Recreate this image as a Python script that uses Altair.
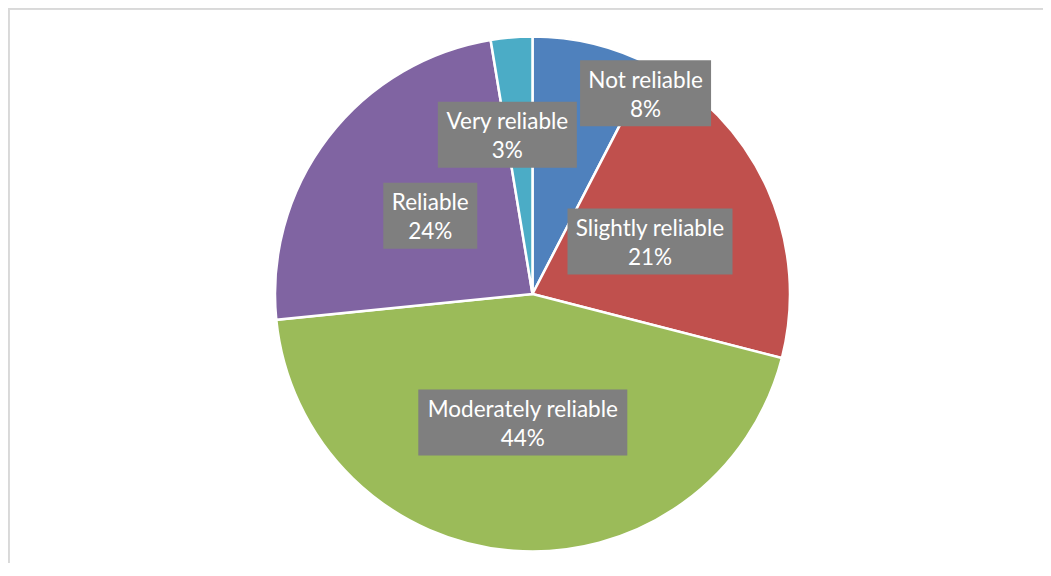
import altair as alt
import pandas as pd

# ---- data ----
categories = ["Not reliable", "Slightly reliable", "Moderately reliable", "Reliable", "Very reliable"]
values = [7.6, 21.4, 44.4, 24.0, 2.6]
colors = ["#4F81BD", "#C0504D", "#9BBB59", "#8064A2", "#4BACC6"]

# ---- label layout (Excel "best fit" placement) ----
label_radius_frac = [0.895, 0.5, 0.5, 0.5, 0.626]
label_angle_nudge = [15.7, 0.0, 0.0, 0.0, -4.3]
box_widths = [131, 165, 209, 94, 139]
BOX_H = 66
LINE_H = 29

W, H = 1035, 555
CX, CY, R = 524.5, 286, 257.5

df = pd.DataFrame({
    "idx": list(range(len(categories))),
    "cat": categories,
    "value": values,
    "frac": label_radius_frac,
    "nudge": label_angle_nudge,
    "bw": box_widths,
})

base = alt.Chart(df).transform_joinaggregate(
    total="sum(value)"
).transform_window(
    cum="sum(value)", sort=[alt.SortField("idx")], frame=[None, 0]
).transform_calculate(
    mid="(datum.cum - datum.value/2)/datum.total*2*PI + datum.nudge*PI/180",
).transform_calculate(
    lx=f"{CX} + datum.frac*{R}*sin(datum.mid)",
    ly=f"{CY} - datum.frac*{R}*cos(datum.mid)",
    label="datum.cat + '|' + format(datum.value/datum.total, '.0%')",
).transform_calculate(
    bx1="datum.lx - datum.bw/2",
    bx2="datum.lx + datum.bw/2",
    by1=f"datum.ly - {BOX_H}/2",
    by2=f"datum.ly + {BOX_H}/2",
)

xs = alt.Scale(domain=[0, W], nice=False, zero=False)
ys = alt.Scale(domain=[0, H], nice=False, zero=False, reverse=True)

pie = alt.Chart(df).mark_arc(radius=R, stroke="white", strokeWidth=2.5).encode(
    theta=alt.Theta("value:Q", stack=True),
    order=alt.Order("idx:Q"),
    color=alt.Color("cat:N", scale=alt.Scale(domain=categories, range=colors), legend=None),
    x=alt.value(CX),
    y=alt.value(CY),
)

boxes = base.mark_rect(color="#7F7F7F").encode(
    x=alt.X("bx1:Q", scale=xs, axis=None),
    x2="bx2:Q",
    y=alt.Y("by1:Q", scale=ys, axis=None),
    y2="by2:Q",
)

texts = base.mark_text(
    color="white", font="Lato", fontSize=22.5, lineBreak="|", lineHeight=LINE_H,
    align="center", baseline="middle", dy=-LINE_H / 2 + 2,
).encode(
    x=alt.X("lx:Q", scale=xs, axis=None),
    y=alt.Y("ly:Q", scale=ys, axis=None),
    text="label:N",
)

top_border = alt.Chart(df).mark_rule(color="#D9D9D9", strokeWidth=1.5).encode(
    x=alt.value(0), x2=alt.value(W), y=alt.value(0.75)
)
left_border = alt.Chart(df).mark_rule(color="#D9D9D9", strokeWidth=1.5).encode(
    x=alt.value(0.75), y=alt.value(0), y2=alt.value(H)
)

chart = alt.layer(pie, boxes, texts, top_border, left_border).properties(
    width=W, height=H, padding=0, autosize=alt.AutoSizeParams(type="none")
).configure_view(stroke=None).configure(background="white")

chart.save("out.html", embed_options={"renderer": "svg", "actions": False})
